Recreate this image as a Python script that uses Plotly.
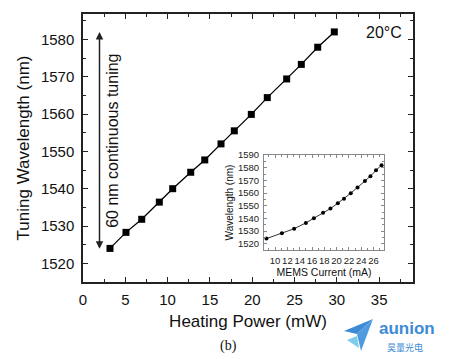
import plotly.graph_objects as go

# ---- data ----
heating_power = [3.19, 5.08, 6.94, 9.02, 10.60, 12.73, 14.39, 16.31, 17.88, 19.89,
                 21.78, 24.07, 25.80, 27.74, 29.70]
wavelength = [1524.0, 1528.3, 1531.8, 1536.4, 1540.0, 1544.4, 1547.7, 1552.0, 1555.5,
              1559.9, 1564.4, 1569.4, 1573.3, 1577.9, 1582.0]
mems_current = [8.6, 11.1, 13.1, 15.0, 16.3, 17.8, 19.0, 20.2, 21.2, 22.3,
                23.4, 24.6, 25.5, 26.4, 27.3]
main_xticks = [0, 5, 10, 15, 20, 25, 30, 35]
main_yticks = [1520, 1530, 1540, 1550, 1560, 1570, 1580]
inset_xticks = [10, 12, 14, 16, 18, 20, 22, 24, 26]
inset_yticks = [1520, 1530, 1540, 1550, 1560, 1570, 1580, 1590]
arrow_x = 1.95
arrow_span = [1523.5, 1582.0]

W, H = 452, 359
SANS = "Liberation Sans, Arial, sans-serif"

fig = go.Figure()
fig.add_trace(go.Scatter(
    x=heating_power, y=wavelength, mode="lines+markers",
    line=dict(color="black", width=1.3),
    marker=dict(symbol="square", size=7, color="black"),
    xaxis="x", yaxis="y", showlegend=False, hoverinfo="skip"))
fig.add_trace(go.Scatter(
    x=mems_current, y=wavelength, mode="lines+markers",
    line=dict(color="#333333", width=1),
    marker=dict(symbol="circle", size=4, color="black"),
    xaxis="x2", yaxis="y2", showlegend=False, hoverinfo="skip"))

main_ax = dict(showgrid=False, zeroline=False, showline=True, linecolor="#222222",
               linewidth=1.5, ticks="inside", ticklen=5, tickwidth=1.2, tickcolor="#222222",
               mirror="allticks", automargin=False,
               tickfont=dict(family=SANS, size=15, color="#111111"))
inset_ax = dict(showgrid=False, zeroline=False, showline=True, linecolor="#888888",
                linewidth=1, ticks="inside", ticklen=3, tickwidth=1, tickcolor="#888888",
                mirror="allticks", automargin=False, tickangle=0,
                tickfont=dict(family=SANS, size=9.5, color="#222222"))

fig.update_layout(
    width=W, height=H, margin=dict(l=0, r=0, t=0, b=0, pad=0), autosize=False,
    paper_bgcolor="white", plot_bgcolor="white",
    xaxis=dict(main_ax, domain=[83 / W, 413 / W], range=[0, 39], anchor="y",
               tickvals=main_xticks,
               minor=dict(ticks="inside", ticklen=3, dtick=2.5, tick0=0, tickcolor="#222222"),
               ticklabelstandoff=3,
               title=dict(text="Heating Power (mW)", font=dict(family=SANS, size=17, color="#111111"),
                          standoff=8)),
    yaxis=dict(main_ax, domain=[1 - 282 / H, 1 - 14 / H], range=[1515, 1586.8], anchor="x",
               tickvals=main_yticks,
               minor=dict(ticks="inside", ticklen=3, dtick=5, tick0=1515, tickcolor="#222222"),
               ticklabelstandoff=4,
               title=dict(text="Tuning Wavelength (nm)", font=dict(family=SANS, size=17, color="#111111"),
                          standoff=7)),
    xaxis2=dict(inset_ax, domain=[264 / W, 384 / W], range=[8.2, 27.7], anchor="y2",
                tickvals=inset_xticks,
                minor=dict(ticks="inside", ticklen=2, dtick=1, tick0=8, tickcolor="#888888"),
                ticklabelstandoff=2,
                title=dict(text="MEMS Current (mA)", font=dict(family=SANS, size=10.5, color="#111111"),
                           standoff=2)),
    yaxis2=dict(inset_ax, domain=[1 - 250 / H, 1 - 155 / H], range=[1515, 1590], anchor="x2",
                tickvals=inset_yticks,
                minor=dict(ticks="inside", ticklen=2, dtick=5, tick0=1515, tickcolor="#888888"),
                ticklabelstandoff=2,
                title=dict(text="Wavelength (nm)", font=dict(family=SANS, size=10, color="#111111"),
                           standoff=2)),
)

# double-headed arrow
fig.add_annotation(x=arrow_x, y=arrow_span[1], ax=arrow_x, ay=arrow_span[0],
                   xref="x", yref="y", axref="x", ayref="y", text="",
                   showarrow=True, arrowhead=2, arrowside="end+start", arrowsize=1,
                   arrowwidth=1.5, arrowcolor="#222222")

def label(x, y, text, font, xref="paper", yref="paper", angle=0):
    fig.add_annotation(x=x, y=y, xref=xref, yref=yref, text=text, textangle=angle,
                       showarrow=False, xanchor="center", yanchor="middle", font=font)

label(3.4, (arrow_span[0] + arrow_span[1]) / 2, "60 nm continuous tuning",
      dict(family=SANS, size=16, color="#111111"), xref="x", yref="y", angle=-90)
label(384 / W, 1 - 33 / H, "20°C", dict(family=SANS, size=16, color="#111111"))
label(229 / W, 1 - 346 / H, "(b)",
      dict(family="Liberation Serif, Times New Roman, serif", size=14, color="#111111"))

# logo
def P(x, y):
    return f"{x / W:.4f},{1 - y / H:.4f}"
fig.add_shape(type="path", xref="paper", yref="paper",
              path=f"M{P(344, 331)} L{P(373, 319)} L{P(357, 334)} Z",
              fillcolor="#3d8ad6", line=dict(width=0))
fig.add_shape(type="path", xref="paper", yref="paper",
              path=f"M{P(357, 334)} L{P(373, 319)} L{P(361, 351)} Z",
              fillcolor="#4f9be0", line=dict(width=0))
fig.add_shape(type="path", xref="paper", yref="paper",
              path=f"M{P(347, 340)} L{P(357, 336)} L{P(359, 348)} Z",
              fillcolor="#7fcbea", line=dict(width=0))
label(407 / W, 1 - 328 / H, "<b>aunion</b>", dict(family=SANS, size=17, color="#3d8ad6"))
label(405 / W, 1 - 347.5 / H, "昊量光电", dict(family="Noto Sans CJK SC", size=9, color="#3d8ad6"))

fig.write_html("out.html", config={"displayModeBar": False},
               post_script="document.body.style.margin='0';")
